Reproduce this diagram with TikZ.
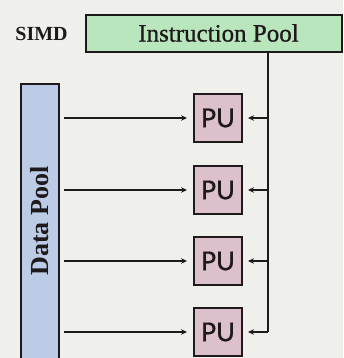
\documentclass[tikz,border=0pt]{standalone}
\usepackage{fontspec}
\newfontfamily\pufont[FakeBold=0.6]{Carlito}
\newfontfamily\labfont[FakeBold=0.8]{Liberation Serif}
\newfontfamily\labbold{Liberation Serif Bold}
\usetikzlibrary{arrows.meta}
\definecolor{bg}{HTML}{EFEFEC}
\definecolor{ipgreen}{HTML}{B9E6BD}
\definecolor{dpblue}{HTML}{BCCBE6}
\definecolor{pupink}{HTML}{DCC0CC}
\definecolor{ink}{HTML}{1E1A1C}
\begin{document}
\begin{tikzpicture}[x=1pt,y=-1pt,
  poolbox/.style={draw=ink, line width=2pt, inner sep=0pt},
  pubox/.style={draw=ink, fill=pupink, line width=2pt, minimum size=48pt, inner sep=0pt,
    font=\pufont\fontsize{29}{29}\selectfont, text=ink},
  arr/.style={draw=ink, line width=2pt, -{Stealth[length=6pt,width=5.5pt]}},
  bus/.style={draw=ink, line width=2pt}]
\useasboundingbox (0,0) rectangle (343,358);
\clip (0,0) rectangle (343,358);
\fill[bg] (0,0) rectangle (343,358);
\node[font=\labbold\fontsize{20}{20}\selectfont, text=ink] (simd) at (41.5,34) {SIMD};
\node[poolbox, fill=ipgreen, minimum width=256pt, minimum height=37pt, anchor=north west] (ip) at (85,14) {};
\node[font=\labfont\fontsize{25}{25}\selectfont, text=ink] (iplabel) at (218.5,33) {Instruction Pool};
\node[poolbox, fill=dpblue, minimum width=38pt, minimum height=300pt, anchor=north west] (dp) at (20,83) {};
\node[font=\labbold\fontsize{26}{26}\selectfont, text=ink, rotate=90] (dplabel) at (40,221) {Data Pool};
\node[pubox] (pu1) at (218,118) {PU};
\node[pubox] (pu2) at (218,190) {PU};
\node[pubox] (pu3) at (218,261) {PU};
\node[pubox] (pu4) at (218,332) {PU};
\coordinate (bustop) at (268,51);
\foreach \p in {pu1,pu2,pu3,pu4}{
  \draw[arr] ([xshift=4pt]dp.east |- \p) -- ([xshift=-6pt]\p.west);
}
\draw[bus] (bustop) -- (bustop |- pu4);
\foreach \p in {pu1,pu2,pu3}{
  \draw[arr] (bustop |- \p) -- ([xshift=5pt]\p.east);
}
\draw[arr] (bustop |- pu4) -- ([xshift=5pt]pu4.east);
\end{tikzpicture}
\end{document}
